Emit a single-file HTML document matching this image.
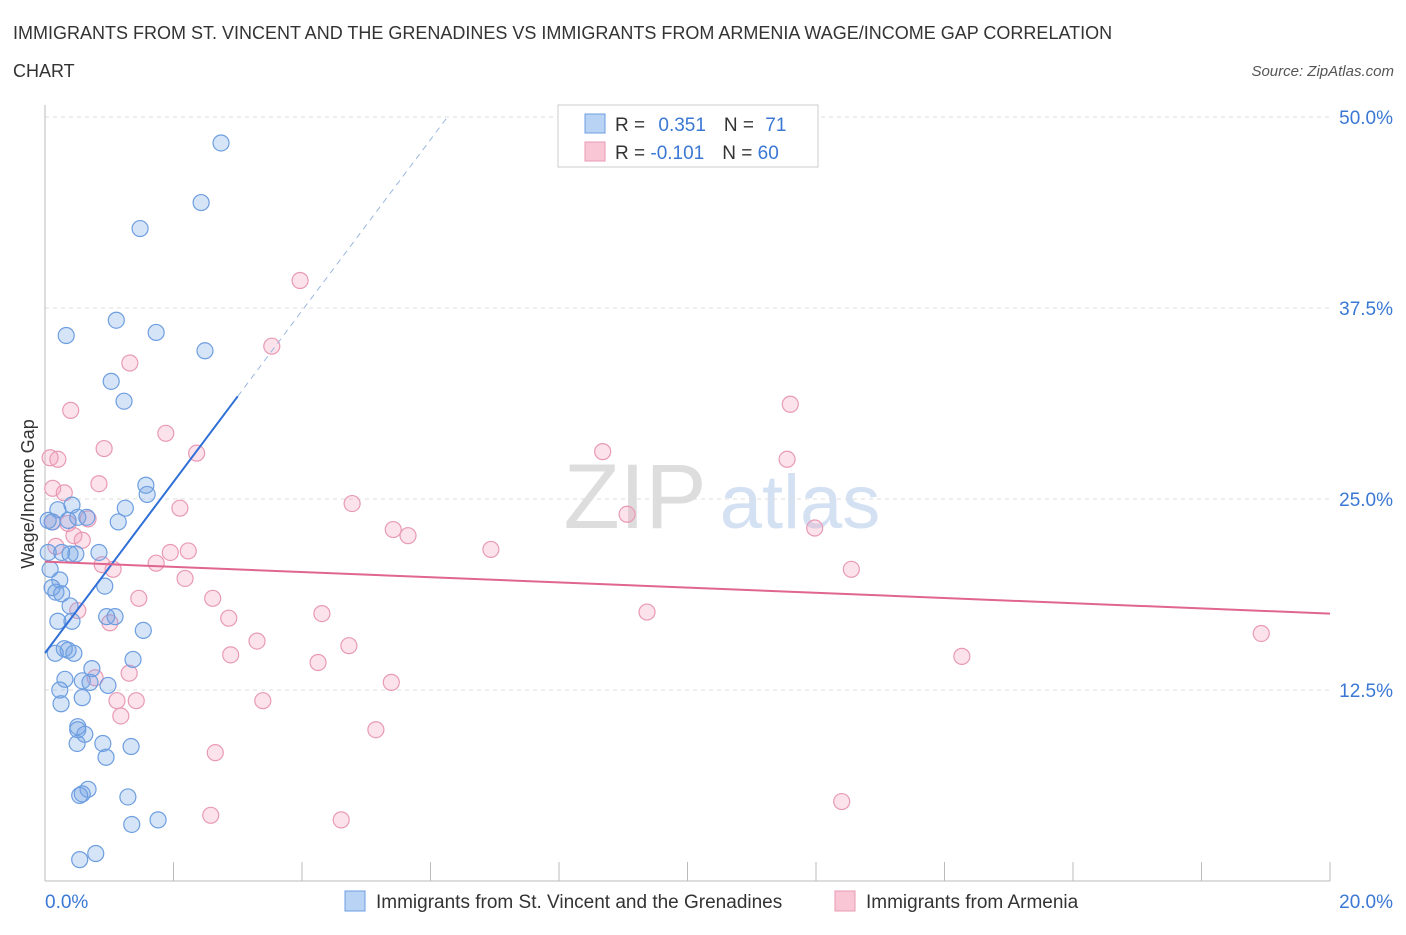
<!DOCTYPE html>
<html><head><meta charset="utf-8"><style>
body{margin:0;background:#fff;font-family:"Liberation Sans",sans-serif;}
svg text{font-family:"Liberation Sans",sans-serif;}
</style></head><body>
<svg id="c" width="1406" height="930" xmlns="http://www.w3.org/2000/svg">
<text x="13" y="39" font-size="18" fill="#333">IMMIGRANTS FROM ST. VINCENT AND THE GRENADINES VS IMMIGRANTS FROM ARMENIA WAGE/INCOME GAP CORRELATION</text>
<text x="13" y="77" font-size="18" fill="#333">CHART</text>
<text x="1394" y="76" font-size="15" fill="#555" font-style="italic" text-anchor="end">Source: ZipAtlas.com</text>
<text x="635" y="528" font-size="92" fill="#ddd" font-family="Liberation Serif" text-anchor="middle">ZIP</text>
<text x="800" y="528" font-size="76" fill="#d3e1f3" text-anchor="middle">atlas</text>
<text transform="translate(34,494) rotate(-90)" font-size="18" fill="#333" text-anchor="middle">Wage/Income Gap</text>
<g id="grid"></g><g id="marks"></g>
<g>
<rect x="558" y="105" width="260" height="62" fill="#fff" stroke="#ccc"/>
<rect x="585" y="114" width="20" height="19" fill="#b9d3f5" stroke="#6d9ee0"/>
<rect x="585" y="142" width="20" height="19" fill="#f9c6d6" stroke="#e89ab5"/>
<text x="615" y="131" font-size="19" fill="#333">R = <tspan fill="#3a78d4" dx="8">0.351</tspan><tspan dx="18" fill="#333">N = </tspan><tspan fill="#3a78d4" dx="6">71</tspan></text>
<text x="615" y="159" font-size="19" fill="#333">R = <tspan fill="#3a78d4">-0.101</tspan><tspan dx="18" fill="#333">N = </tspan><tspan fill="#3a78d4">60</tspan></text>
</g>
<g>
<rect x="345" y="891" width="20" height="20" fill="#b9d3f5" stroke="#6d9ee0"/>
<text x="376" y="908" font-size="19" fill="#333">Immigrants from St. Vincent and the Grenadines</text>
<rect x="835" y="891" width="20" height="20" fill="#f9c6d6" stroke="#e89ab5"/>
<text x="866" y="908" font-size="19" fill="#333">Immigrants from Armenia</text>
</g>
</svg>
<script>
const yTicks=[12.5,25,37.5,50];
const yTickLabels=["12.5%","25.0%","37.5%","50.0%"];
const xTickLabels=["0.0%","20.0%"];
const blueX=[2.74,2.43,1.48,1.11,1.73,0.33,2.49,1.03,1.23,1.57,1.59,1.25,0.42,0.20,0.11,0.36,0.51,0.65,1.14,0.05,0.26,0.39,0.48,0.84,0.08,0.23,0.11,0.17,0.26,0.93,0.39,0.96,1.09,0.20,0.42,1.53,0.30,0.36,0.45,0.16,1.37,0.73,0.31,0.58,0.70,0.98,0.23,0.58,0.25,0.51,0.51,0.62,0.50,0.90,1.34,0.95,0.67,0.58,0.54,1.29,1.76,1.35,0.79,0.54,0.05];
const blueY=[48.3,44.4,42.7,36.7,35.9,35.7,34.7,32.7,31.4,25.9,25.3,24.4,24.6,24.3,23.5,23.6,23.8,23.8,23.5,21.5,21.5,21.4,21.4,21.5,20.4,19.7,19.2,18.9,18.8,19.3,18.0,17.3,17.3,17.0,17.0,16.4,15.2,15.1,14.9,14.9,14.5,13.9,13.2,13.1,13.0,12.8,12.5,12.0,11.6,10.1,9.9,9.6,9.0,9.0,8.8,8.1,6.0,5.7,5.6,5.5,4.0,3.7,1.8,1.4,23.6];
const pinkX=[3.97,3.53,1.32,0.40,11.6,1.88,0.92,8.68,11.55,2.36,0.08,0.20,0.84,0.12,0.30,4.78,2.10,9.06,0.67,0.36,0.12,5.42,11.98,5.65,0.45,0.58,0.17,6.94,2.23,1.95,0.89,1.06,1.73,12.55,2.18,1.46,2.61,0.51,9.37,4.31,2.86,1.01,18.93,3.30,4.73,2.89,14.27,4.25,1.31,0.78,5.39,1.12,1.42,3.39,1.18,5.15,2.65,12.4,2.58,4.61];
const pinkY=[39.3,35.0,33.9,30.8,31.2,29.3,28.3,28.1,27.6,28.0,27.7,27.6,26.0,25.7,25.4,24.7,24.4,24.0,23.7,23.4,23.5,23.0,23.1,22.6,22.6,22.3,21.9,21.7,21.6,21.5,20.7,20.4,20.8,20.4,19.8,18.5,18.5,17.7,17.6,17.5,17.2,16.9,16.2,15.7,15.4,14.8,14.7,14.3,13.6,13.3,13.0,11.8,11.8,11.8,10.8,9.9,8.4,5.2,4.3,4.0];
const blueLine=[14.92,5.6]; const pinkLine=[20.9,-0.17];
const NS="http://www.w3.org/2000/svg";
const X=v=>45+v*64.25, Y=v=>881-v*15.28;
function mk(t,a,p){const e=document.createElementNS(NS,t);for(const k in a)e.setAttribute(k,a[k]);p.appendChild(e);return e;}
const g=document.getElementById('grid'), m=document.getElementById('marks');
yTicks.forEach((t,i)=>{
 const l=mk('line',{x1:45,x2:1330,y1:Y(t),y2:Y(t),stroke:'#ddd','stroke-dasharray':'4,4'},g);
 
 
 const tx=mk('text',{x:1393,y:Y(t)+7,'font-size':19,fill:'#3a78d4','text-anchor':'end'},g);
 tx.textContent=yTickLabels[i];
 
 
});
const ax=mk('line',{x1:45,x2:45,y1:105,y2:881,stroke:'#bbb'},g);


const bx=mk('line',{x1:45,x2:1330,y1:881,y2:881,stroke:'#bbb'},g);


for(let i=0;i<=10;i++){const t=mk('line',{x1:X(i*2),x2:X(i*2),y1:862,y2:881,stroke:'#bbb'},g);
 
 }
[[0,'start'],[20,'end']].forEach((p,i)=>{const t=mk('text',{x:i?1393:45,y:908,'font-size':19,fill:'#3a78d4','text-anchor':p[1]},g);t.textContent=xTickLabels[i];
 
 });
pinkX.forEach((x,i)=>{const c=mk('circle',{cx:X(x),cy:Y(pinkY[i]),r:8,fill:'rgba(244,160,190,0.3)',stroke:'#e89ab5','stroke-width':1.2},m);
 
 });
blueX.forEach((x,i)=>{const c=mk('circle',{cx:X(x),cy:Y(blueY[i]),r:8,fill:'rgba(120,165,230,0.3)',stroke:'#6d9ee0','stroke-width':1.2},m);
 
 });
const bx1=3.0, bxEnd=(50-blueLine[0])/blueLine[1];
const l1=mk('line',{x1:X(0),y1:Y(blueLine[0]),x2:X(bx1),y2:Y(blueLine[0]+blueLine[1]*bx1),stroke:'#2f6fd6','stroke-width':2},m);


const l2=mk('line',{x1:X(bx1),y1:Y(blueLine[0]+blueLine[1]*bx1),x2:X(bxEnd),y2:Y(50),stroke:'#9bb8e0','stroke-width':1,'stroke-dasharray':'6,5'},m);


const l3=mk('line',{x1:X(0),y1:Y(pinkLine[0]),x2:X(20),y2:Y(pinkLine[0]+pinkLine[1]*20),stroke:'#e0658f','stroke-width':2},m);


</script>
</body></html>
